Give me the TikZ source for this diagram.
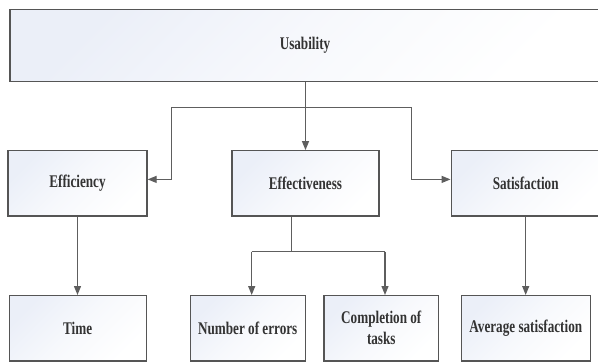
\documentclass[tikz,border=0pt]{standalone}
\usepackage{fontspec}
\setmainfont{Liberation Serif}[FakeStretch=0.74]
\usetikzlibrary{arrows.meta}
\definecolor{boxline}{HTML}{555555}
\definecolor{conn}{HTML}{5E5E5E}
\definecolor{shadeblue}{HTML}{EBEFF8}
\definecolor{txt}{HTML}{333333}
\tikzset{
  box/.style={draw=boxline, line width=1.3pt, rectangle, inner sep=2pt,
    top color=shadeblue, bottom color=white, middle color=shadeblue!40!white, shading angle=45,
    font=\fontsize{17.8}{21}\selectfont\bfseries, text=txt, align=center},
  conline/.style={draw=conn, line width=1.2pt},
  arr/.style={conline, -{Triangle[width=7pt,length=9pt]}}
}
\begin{document}
\begin{tikzpicture}[x=1pt,y=-1pt]
\useasboundingbox (0,0) rectangle (598,362);
\clip (0,0) rectangle (598,362);
\fill[white] (0,0) rectangle (598,362);
\node[box, minimum width=590pt, minimum height=72pt] (use) at (305,45.7) {Usability};
\node[box, minimum width=139pt, minimum height=65.3pt] (efc) at (77.5,183.4) {Efficiency};
\node[box, minimum width=147pt, minimum height=65.3pt] (eft) at (305.5,183.4) {Effectiveness};
\node[box, minimum width=149pt, minimum height=65.3pt] (sat) at (525.7,183.4) {Satisfaction};
\node[box, minimum width=137pt, minimum height=65.3pt] (time) at (77.7,328.3) {Time};
\node[box, minimum width=115pt, minimum height=65.3pt] (num) at (247.7,328.3) {Number of errors};
\node[box, minimum width=114.7pt, minimum height=65.3pt] (comp) at (381.3,328.3) {Completion of\\tasks};
\node[box, minimum width=129pt, minimum height=65.3pt] (avg) at (525.8,328.3) {Average satisfaction};
% top level connectors
\coordinate (jl) at (171.7,107.3);
\coordinate (jr) at (411.7,107.3);
\draw[arr] (use.south -| eft.north) -- (eft.north);
\draw[conline] (jl) -- (jr);
\draw[arr] (jl) |- ([yshift=4pt]efc.east);
\draw[arr] (jr) |- ([yshift=4pt]sat.west);
% second level
\coordinate (ej) at (291.7,251.7);
\coordinate (nb) at (251.7,251.7);
\coordinate (cb) at (385,251.7);
\draw[conline] (eft.south -| ej) -- (ej);
\draw[conline] (nb) -- (cb);
\draw[arr] (nb) -- (nb |- num.north);
\draw[arr] (cb) -- (cb |- comp.north);
\draw[arr] (efc.south) -- (efc.south |- time.north);
\draw[arr] (sat.south) -- (sat.south |- avg.north);
\end{tikzpicture}
\end{document}
